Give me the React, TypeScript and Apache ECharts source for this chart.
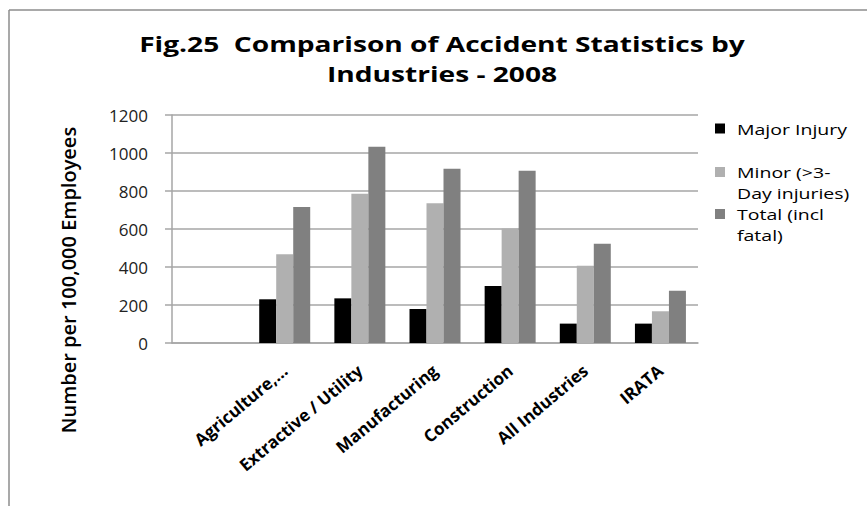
import React, { useEffect, useRef } from "react";
import * as echarts from "echarts";

const titleLines = ["Fig.25  Comparison of Accident Statistics by", "Industries - 2008"];
const yAxisTitle = "Number per 100,000 Employees";
const categories = ["", "Agriculture,...", "Extractive / Utility", "Manufacturing", "Construction", "All Industries", "IRATA"];
const seriesNames = ["Major Injury", "Minor (>3-Day injuries)", "Total (incl fatal)"];
const legendLabels = ["Major Injury", "Minor (>3-\nDay injuries)", "Total (incl\nfatal)"];
const seriesColors = ["#000000", "#b0b0b0", "#808080"];
const majorInjury = [null, 230, 235, 179, 300, 102, 102];
const minorInjury = [null, 467, 786, 735, 603, 407, 167];
const totalInjury = [null, 716, 1033, 917, 907, 523, 275];
const yTicks = { min: 0, max: 1200, interval: 200 };

const FONT = "'Open Sans', 'DejaVu Sans', sans-serif";

export default function App() {
  const ref = useRef<HTMLDivElement>(null);
  useEffect(() => {
    if (!ref.current) return;
    const chart = echarts.init(ref.current, null, { renderer: "svg" });
    const values = [majorInjury, minorInjury, totalInjury];
    const legendTops = [118, 161.5, 203.5];
    const legendGraphics: any[] = [];
    legendLabels.forEach((lab, i) => {
      legendGraphics.push({
        type: "rect",
        shape: { x: 715, y: legendTops[i] + 5.5, width: 10, height: 10 },
        style: { fill: seriesColors[i] },
      });
      legendGraphics.push({
        type: "text",
        x: 737,
        y: legendTops[i],
        scaleX: 1.3,
        style: {
          text: lab,
          font: `15px ${FONT}`,
          fill: "#000",
          lineHeight: 21,
          verticalAlign: "top",
          textAlign: "left",
        },
      });
    });
    chart.setOption({
      animation: false,
      backgroundColor: "#ffffff",
      grid: { left: 172, right: 169, top: 115, bottom: 163, containLabel: false },
      xAxis: {
        type: "category",
        data: categories,
        axisLine: { show: true, lineStyle: { color: "#a6a6a6", width: 1.5 } },
        axisTick: { show: false },
        axisLabel: {
          interval: 0,
          rotate: 40,
          margin: 25,
          fontFamily: FONT,
          fontSize: 17,
          fontWeight: "bold",
          color: "#000",
        },
        splitLine: { show: false },
      },
      yAxis: {
        type: "value",
        min: yTicks.min,
        max: yTicks.max,
        interval: yTicks.interval,
        axisLine: { show: true, lineStyle: { color: "#a6a6a6", width: 1.5 } },
        axisTick: { show: true, length: 7, lineStyle: { color: "#a6a6a6", width: 1.5 } },
        axisLabel: {
          margin: 24,
          fontFamily: FONT,
          fontSize: 17,
          color: "#222",
          formatter: (v: number) => String(v),
        },
        splitLine: { show: true, lineStyle: { color: "#a6a6a6", width: 1.5 } },
      },
      series: seriesNames.map((name, i) => ({
        name,
        type: "bar",
        data: values[i],
        barWidth: 17,
        barGap: "0%",
        itemStyle: { color: seriesColors[i] },
      })),
      graphic: [
        {
          type: "line",
          shape: { x1: 9, y1: 10, x2: 867, y2: 10 },
          style: { stroke: "#8c8c8c", lineWidth: 1.5 },
        },
        {
          type: "line",
          shape: { x1: 9, y1: 10, x2: 9, y2: 506 },
          style: { stroke: "#8c8c8c", lineWidth: 1.5 },
        },
        {
          type: "text",
          x: 442,
          y: 29,
          scaleX: 1.34,
          style: {
            text: titleLines.join("\n"),
            font: `bold 21px ${FONT}`,
            fill: "#000",
            lineHeight: 30,
            textAlign: "center",
            verticalAlign: "top",
          },
        },
        {
          type: "text",
          x: 68,
          y: 280,
          rotation: Math.PI / 2,
          style: {
            text: yAxisTitle,
            font: `600 20px ${FONT}`,
            fill: "#000",
            textAlign: "center",
            verticalAlign: "middle",
          },
        },
        ...legendGraphics,
      ],
    });
    return () => chart.dispose();
  }, []);
  return (
    <div
      ref={ref}
      style={{ position: "absolute", left: 0, top: 0, width: 867, height: 506 }}
    />
  );
}
